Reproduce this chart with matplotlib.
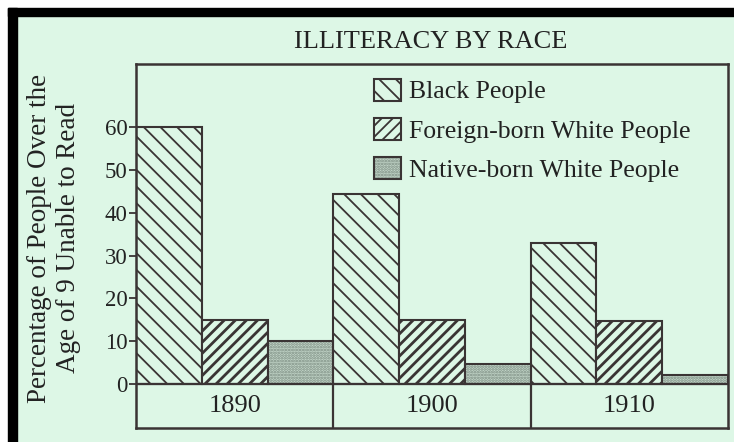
import numpy as np
import matplotlib.pyplot as plt
from matplotlib.patches import Rectangle, Patch
from matplotlib.legend_handler import HandlerTuple

# данные с картинки
years = ['1890', '1900', '1910']
black = [60, 44.5, 33]
foreign = [15, 15, 14.7]
native = [10, 4.7, 2.1]
series_names = ['Black People', 'Foreign-born White People', 'Native-born White People']
yticks = [0, 10, 20, 30, 40, 50, 60]

bg = '#ddf7e6'
ink = '#3a3434'
dots = '#7b8c81'
dots_bg = '#c3d6c9'

plt.rcParams['font.family'] = ['Liberation Serif', 'DejaVu Serif']
plt.rcParams['hatch.linewidth'] = 1.3

W, H = 734, 442
fig = plt.figure(figsize=(W / 100, H / 100), dpi=100, facecolor=bg)

# рамка как на скане: белая полоса и чёрная рамка сверху/слева
fig.patches.append(Rectangle((0, 1 - 8 / H), 1, 8 / H, transform=fig.transFigure, color='white', zorder=0))
fig.patches.append(Rectangle((0, 0), 8 / W, 1, transform=fig.transFigure, color='white', zorder=0))
fig.patches.append(Rectangle((8 / W, 1 - 16 / H), 1, 8 / H, transform=fig.transFigure, color='black', zorder=0))
fig.patches.append(Rectangle((8 / W, 0), 9 / W, 1 - 8 / H, transform=fig.transFigure, color='black', zorder=0))

ax = fig.add_axes([136 / W, 14 / H, 592 / W, 364 / H])
ax.set_facecolor(bg)

x = np.arange(len(years))
w = 1 / 3
ax.bar(x - w, black, w, color=bg, edgecolor=ink, hatch='\\\\', linewidth=1.5)
with plt.rc_context({'hatch.linewidth': 2.0}):  # у второй серии штриховка толще
    ax.bar(x, foreign, w, color=bg, edgecolor=ink, hatch='///', linewidth=1.5)
    h2 = Patch(facecolor=bg, edgecolor=ink, hatch='///', linewidth=1.5)
# точечная заливка отдельно, чтобы точки были серые, а контур тёмный
ax.bar(x + w, native, w, color=dots_bg, edgecolor=dots, hatch='......', linewidth=0)
ax.bar(x + w, native, w, fill=False, edgecolor=ink, linewidth=1.5)

ax.set_xlim(-0.5, 2.5)
ax.set_ylim(-10.3, 74.8)

# строка с годами под осью
ax.axhline(0, color=ink, lw=1.6)
ax.vlines([0.5, 1.5], -10.3, 0, color=ink, lw=1.6)
for i, yr in enumerate(years):
    ax.text(x[i], -5.1, yr, ha='center', va='center', fontsize=19, color='#222222')

ax.set_xticks([])
ax.set_yticks(yticks)
ax.set_yticklabels([str(t) for t in yticks], fontsize=16.5, color='#222222')
ax.tick_params(axis='y', length=5, width=1.3, color=ink, pad=1)
for s in ax.spines.values():
    s.set_color(ink)
    s.set_linewidth(1.8)

h1 = Patch(facecolor=bg, edgecolor=ink, hatch='\\\\', linewidth=1.5)
h3 = (Patch(facecolor=dots_bg, edgecolor=dots, hatch='......', linewidth=0),
      Patch(fill=False, edgecolor=ink, linewidth=1.5))
ax.legend([h1, h2, h3], series_names, handler_map={tuple: HandlerTuple(ndivide=1, pad=0)},
          loc='upper left', bbox_to_anchor=(0.402, 0.96), frameon=False, fontsize=18.5,
          handlelength=1.05, handleheight=0.95, handletextpad=0.3, labelspacing=0.55,
          borderpad=0, borderaxespad=0, labelcolor='#222222')

fig.text(431 / W, 1 - 42 / H, 'ILLITERACY BY RACE', ha='center', va='center', fontsize=19, color='#222222')
fig.text(54 / W, 1 - 238 / H, 'Percentage of People Over the\nAge of 9 Unable to Read',
         rotation=90, ha='center', va='center', multialignment='center',
         fontsize=19.5, color='#222222', linespacing=1.22)

fig.savefig('out.png', dpi=100, facecolor=bg)
